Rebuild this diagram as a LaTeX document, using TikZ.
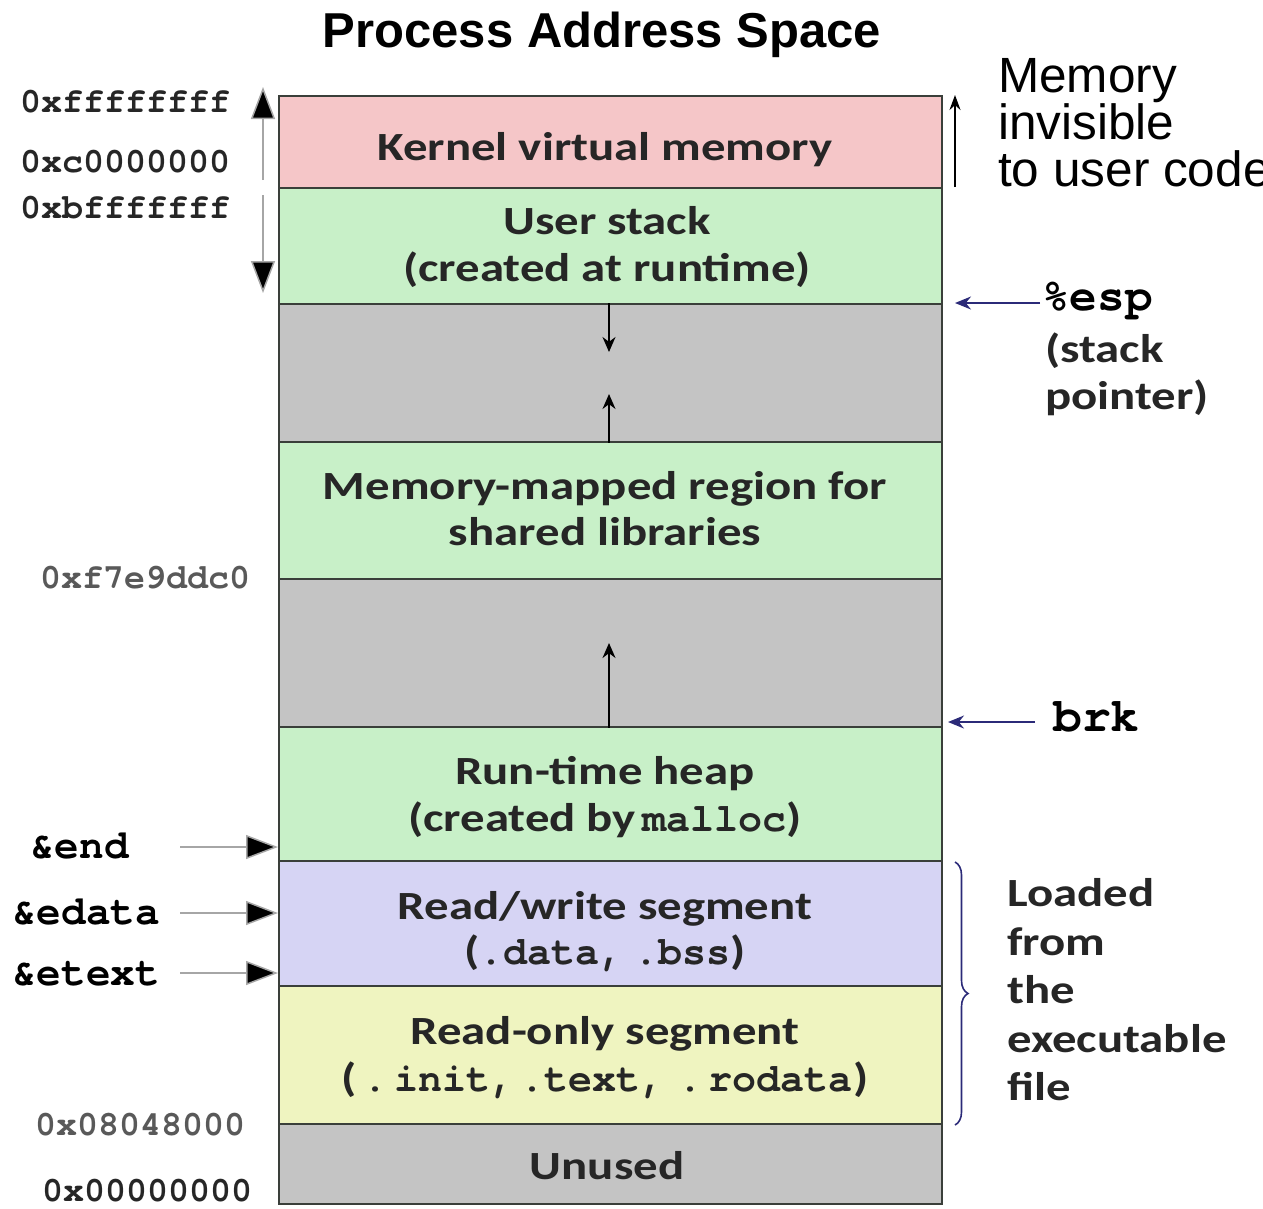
\documentclass[tikz,border=0pt]{standalone}
\usepackage{fontspec}
\setmainfont{Carlito}[FakeStretch=1.22]
\newfontfamily\helv{Liberation Sans}
\newfontfamily\cour{TeX Gyre Cursor}[Ligatures={NoCommon,NoRequired,NoContextual}]
\usetikzlibrary{arrows.meta,decorations.pathreplacing}
\definecolor{kern}{HTML}{F5C6C8}
\definecolor{grn}{HTML}{C8F0C8}
\definecolor{gry}{HTML}{C4C4C4}
\definecolor{lav}{HTML}{D6D4F4}
\definecolor{ylw}{HTML}{EFF4C0}
\definecolor{navy}{HTML}{2B2A78}
\definecolor{edge}{HTML}{3A3F3A}
\tikzset{
  seg/.style={draw=edge, line width=1.8pt, rectangle, inner sep=0pt, minimum width=663pt},
  boxtxt/.style={font=\fontsize{40}{40}\selectfont\bfseries, anchor=base, inner sep=0pt, text=black!85},
  mono/.style={font=\fontsize{35}{35}\selectfont\cour\bfseries, anchor=base west, inner sep=0pt},
  addr/.style={mono, text=black!85},
  faint/.style={mono, text=black!65},
  side/.style={font=\fontsize{40}{40}\selectfont\bfseries, anchor=base west, inner sep=0pt, text=black!85},
  helvtxt/.style={font=\fontsize{49.5}{49.5}\selectfont\helv, anchor=base west, inner sep=0pt},
  growarrow/.style={line width=1.6pt, -{Stealth[length=15pt,width=13pt]}},
  bigptr/.style={draw=black!35, line width=1.5pt, -{Triangle[length=32pt,width=24pt,fill=black]}},
  navyptr/.style={draw=navy, line width=1.8pt, -{Stealth[length=16pt,width=13pt]}},
}
\newcommand{\mytt}[1]{{\cour\bfseries\fontsize{40}{40}\selectfont #1}}
\begin{document}
\begin{tikzpicture}[x=1pt,y=-1pt]
\useasboundingbox (0,0) rectangle (1263,1208);
\clip (0,0) rectangle (1263,1208);

% title
\node[font=\fontsize{49}{49}\selectfont\helv\bfseries, anchor=base, inner sep=0pt] (title) at (602,47) {Process Address Space};

% segments
\node[seg, fill=kern, minimum height=92pt, anchor=north west] (kernel) at (278,95) {};
\node[seg, fill=grn, minimum height=116pt, anchor=north west] (ustack) at (278,187) {};
\node[seg, fill=gry, minimum height=138pt, anchor=north west] (gap1) at (278,303) {};
\node[seg, fill=grn, minimum height=137pt, anchor=north west] (mmap) at (278,441) {};
\node[seg, fill=gry, minimum height=148pt, anchor=north west] (gap2) at (278,578) {};
\node[seg, fill=grn, minimum height=134pt, anchor=north west] (heap) at (278,726) {};
\node[seg, fill=lav, minimum height=125pt, anchor=north west] (rw) at (278,860) {};
\node[seg, fill=ylw, minimum height=138pt, anchor=north west] (ro) at (278,985) {};
\node[seg, fill=gry, minimum height=80pt, anchor=north west] (unused) at (278,1123) {};

% segment texts
\node[boxtxt] (tk) at (605,160) {Kernel virtual memory};
\node[boxtxt] (tu1) at (607,234) {User stack};
\node[boxtxt] (tu2) at (607,281) {(created at runtime)};
\node[boxtxt] (tm1) at (605,499) {Memory-mapped region for};
\node[boxtxt] (tm2) at (605,545) {shared libraries};
\node[boxtxt] (th1) at (605,784) {Run-time heap};
\node[boxtxt] (th2) at (605,831) {(created by\,\mytt{malloc})};
\node[boxtxt] (tw1) at (605,919) {Read/write segment};
\node[boxtxt] (tw2) at (605,964) {(\mytt{.data,} \mytt{.bss})};
\node[boxtxt] (tr1) at (605,1044) {Read-only segment};
\node[boxtxt] (tr2) at (605,1091) {(\mytt{\,.\,init,\,.text,\,\,.\,rodata})};
\node[boxtxt] (tn) at (607,1179) {Unused};

% growth arrows
\coordinate (sdown) at (609,352);
\coordinate (mup) at (609,394);
\coordinate (hup) at (609,643);
\draw[growarrow] (gap1.north -| sdown) -- (sdown);
\draw[growarrow] (gap1.south -| mup) -- (mup);
\draw[growarrow] (gap2.south -| hup) -- (hup);

% left addresses
\node[addr] (a1) at (20,112) {0xffffffff};
\node[addr] (a2) at (20,172) {0xc0000000};
\node[addr] (a3) at (20,218) {0xbfffffff};
\node[faint] (a4) at (40,588) {0xf7e9ddc0};
\node[faint] (a5) at (35,1135) {0x08048000};
\node[addr] (a6) at (42,1201) {0x00000000};

% left big arrow
\coordinate (ltop) at (263,87);
\coordinate (lmid1) at (263,180);
\coordinate (lmid2) at (263,195);
\coordinate (lbot) at (263,293);
\draw[bigptr] (lmid1) -- (ltop);
\draw[bigptr] (lmid2) -- (lbot);

% left pointers
\node[mono, font=\fontsize{41}{41}\selectfont\cour\bfseries] (lend) at (30,858) {\&end};
\node[mono, font=\fontsize{41}{41}\selectfont\cour\bfseries] (ledata) at (12,924) {\&edata};
\node[mono, font=\fontsize{41}{41}\selectfont\cour\bfseries] (letext) at (12,985) {\&etext};
\coordinate (pend) at (180,847);
\coordinate (pedata) at (180,913);
\coordinate (petext) at (180,973);
\draw[bigptr] (pend) -- (pend -| heap.west);
\draw[bigptr] (pedata) -- (pedata -| rw.west);
\draw[bigptr] (petext) -- (petext -| rw.west);

% right: kernel
\coordinate (kbot) at (955,187);
\coordinate (ktop) at (955,95);
\draw[line width=1.8pt, -{Stealth[length=15pt,width=11pt]}] (kbot) -- (ktop);
\node[helvtxt] (mi1) at (998,92) {Memory};
\node[helvtxt] (mi2) at (998,139) {invisible};
\node[helvtxt] (mi3) at (998,186) {to user code};

% %esp
\node[mono, font=\fontsize{46}{46}\selectfont\cour\bfseries] (esp) at (1042,310) {\%esp};
\node[side] (sp1) at (1045,362) {(stack};
\node[side] (sp2) at (1045,409) {pointer)};
\coordinate (espend) at (955,303);
\draw[navyptr] (1040,303) -- (espend);

% brk
\node[mono, font=\fontsize{48}{48}\selectfont\cour\bfseries] (brk) at (1053,731) {brk};
\coordinate (brkend) at (948,722);
\draw[navyptr] (1035,722) -- (brkend);

% brace
\coordinate (bt) at (955,862);
\coordinate (bb) at (955,1125);
\draw[navy, line width=1.6pt, decorate, decoration={brace, amplitude=13pt}] (bt) -- (bb);
\node[side] (l1) at (1007,906) {Loaded};
\node[side] (l2) at (1007,955) {from};
\node[side] (l3) at (1007,1003) {the};
\node[side] (l4) at (1007,1052) {executable};
\node[side] (l5) at (1007,1100) {file};
\end{tikzpicture}
\end{document}
